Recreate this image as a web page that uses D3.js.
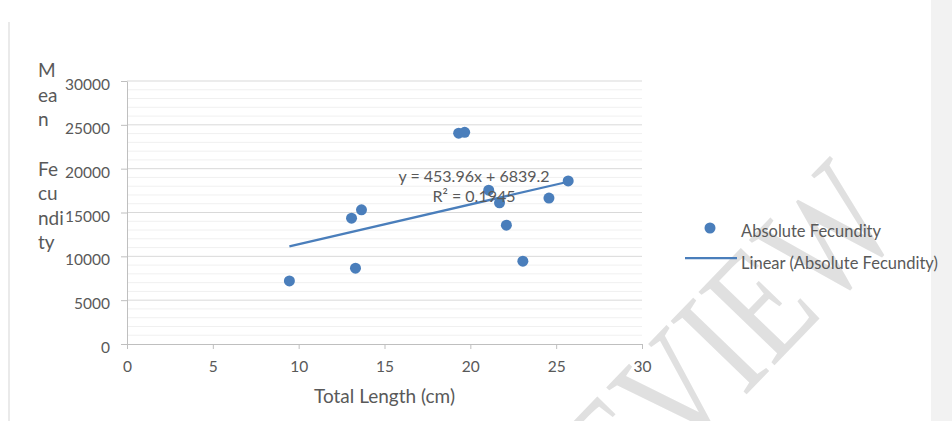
<!DOCTYPE html>
<html>
<head>
<meta charset="utf-8">
<script src="https://cdn.jsdelivr.net/npm/d3@7"></script>
<style>
  html, body { margin: 0; padding: 0; background: #ffffff; }
  svg { display: block; }
  text { font-family: Lato, "Open Sans", sans-serif; fill: #595959; }
</style>
</head>
<body>
<svg id="chart" width="952" height="421"></svg>
<script>
// ---- data ----
const totalLength = [9.46, 13.08, 13.66, 13.31, 19.32, 19.67, 21.07, 21.70, 22.10, 23.06, 24.58, 25.70];
const absoluteFecundity = [7200, 14350, 15300, 8650, 24050, 24150, 17550, 16100, 13550, 9450, 16650, 18600];
const xTicks = [0, 5, 10, 15, 20, 25, 30];
const yTicks = [0, 5000, 10000, 15000, 20000, 25000, 30000];
const yMinorTicks = d3.range(0, 30001, 1000);
const trendSlope = [453.96];
const trendIntercept = [6839.2];
const equationLines = ["y = 453.96x + 6839.2", "R\u00B2 = 0.1945"];
const yTitleLines = ["M", "ea", "n", "", "Fe", "cu", "ndi", "ty"];
const xTitle = "Total Length (cm)";
const legendLabels = ["Absolute Fecundity", "Linear (Absolute Fecundity)"];
const watermark = "PREVIEW";

const blue = "#4a7ebb";
const svg = d3.select("#chart");

// background strip & frame
svg.append("rect").attr("x", 931).attr("y", 0).attr("width", 21).attr("height", 421).attr("fill", "#f2f2f2");
svg.append("line").attr("x1", 9).attr("x2", 9).attr("y1", 22).attr("y2", 421)
  .attr("stroke", "#e3e3e3").attr("stroke-width", 1.5);

// watermark
svg.append("text")
  .attr("transform", "translate(674,388) rotate(-46) scale(1,1.3)")
  .attr("text-anchor", "middle").attr("dy", "0.35em")
  .style("font-family", "'Liberation Serif', 'DejaVu Serif', serif")
  .style("font-size", "124px").style("fill", "#e0e0e0")
  .text(watermark);

const x = d3.scaleLinear().domain([0, 30]).range([127, 642]);
const y = d3.scaleLinear().domain([0, 30000]).range([344, 81]);

// minor gridlines
svg.append("g").selectAll("line").data(yMinorTicks.filter(v => v % 5000 !== 0)).join("line")
  .attr("x1", x(0)).attr("x2", x(30)).attr("y1", d => y(d)).attr("y2", d => y(d))
  .attr("stroke", "#f0f0f0").attr("stroke-width", 1);
// major gridlines
svg.append("g").selectAll("line").data(yTicks.filter(v => v > 0)).join("line")
  .attr("x1", x(0)).attr("x2", x(30)).attr("y1", d => y(d)).attr("y2", d => y(d))
  .attr("stroke", "#d9d9d9").attr("stroke-width", 1);

// axes
const yAxis = svg.append("g").attr("transform", `translate(${x(0)},0)`)
  .call(d3.axisLeft(y).tickValues(yTicks).tickSize(6).tickSizeOuter(0).tickPadding(11).tickFormat(d3.format("d")));
const xAxis = svg.append("g").attr("transform", `translate(0,${y(0)})`)
  .call(d3.axisBottom(x).tickValues(xTicks).tickSize(5).tickSizeOuter(0).tickPadding(12).tickFormat(d3.format("d")));
[yAxis, xAxis].forEach(a => {
  a.select(".domain").attr("stroke", "#bfbfbf");
  a.selectAll(".tick line").attr("stroke", "#bfbfbf");
  a.selectAll(".tick text").style("font-family", "Lato, sans-serif").style("font-size", "15.5px").attr("fill", "#595959");
});
yAxis.selectAll(".tick text").attr("dy", "0.55em");

// trendline
const xMin = d3.min(totalLength), xMax = d3.max(totalLength);
svg.append("line")
  .attr("x1", x(xMin)).attr("y1", y(trendSlope[0] * xMin + trendIntercept[0]))
  .attr("x2", x(xMax)).attr("y2", y(trendSlope[0] * xMax + trendIntercept[0]))
  .attr("stroke", blue).attr("stroke-width", 2.25);

// points
svg.append("g").selectAll("circle").data(totalLength.map((v, i) => [v, absoluteFecundity[i]])).join("circle")
  .attr("cx", d => x(d[0])).attr("cy", d => y(d[1])).attr("r", 5.5).attr("fill", blue);

// equation label
svg.append("g").selectAll("text").data(equationLines).join("text")
  .attr("x", 474).attr("y", (d, i) => 182 + i * 20)
  .attr("text-anchor", "middle").style("font-size", "16px").text(d => d);

// axis titles
svg.append("text").attr("x", (x(0) + x(30)) / 2).attr("y", 403)
  .attr("text-anchor", "middle").style("font-size", "19px").text(xTitle);
svg.append("g").selectAll("text").data(yTitleLines).join("text")
  .attr("x", 38).attr("y", (d, i) => 70.5 + i * 24.6).attr("dy", "0.35em")
  .style("font-size", "19px").text(d => d);

// legend
svg.append("circle").attr("cx", 710).attr("cy", 228).attr("r", 5.5).attr("fill", blue);
svg.append("line").attr("x1", 685).attr("x2", 737).attr("y1", 258).attr("y2", 258)
  .attr("stroke", blue).attr("stroke-width", 2.25);
svg.append("g").selectAll("text").data(legendLabels).join("text")
  .attr("x", 741).attr("y", (d, i) => 231.5 + i * 31.5).attr("dy", "0.35em")
  .style("font-size", "16.5px").text(d => d);
</script>
</body>
</html>
